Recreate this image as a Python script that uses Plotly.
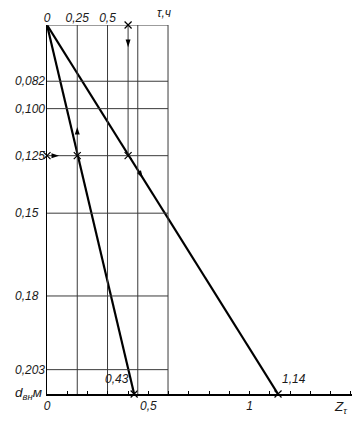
import math
import plotly.graph_objects as go

# ---- data ----
tau_grid = [0.25, 0.5, 0.75, 1.0]          # vertical grid lines, hours
tau_tick_vals = [0, 0.25, 0.5]
tau_tick_text = ["0", "0,25", "0,5"]
d_ticks = [0.082, 0.100, 0.125, 0.15, 0.18, 0.203]   # inner diameter, m
d_tick_text = ["0,082", "0,100", "0,125", "0,15", "0,18", "0,203"]
z_tick_vals = [0, 0.5, 1]
z_tick_text = ["0", "0,5", "1"]
z_results = [0.43, 1.14]                   # Z_tau read on the bottom scale
z_result_text = ["0,43", "1,14"]
tau_example = [0.25, 0.67]                 # tau for the worked example
d_example = 0.125                          # diameter for the worked example

# ---- scales ----
Z_MAX = 1.505
TAU_MAX = 2.52
D2_MAX = 0.04412        # d-scale is drawn as d^2
W, H = 359, 427
ML, MR, MT, MB = 47, 7, 25, 33
PW, PH = W - ML - MR, H - MT - MB

FONT = "Liberation Sans, Arial, sans-serif"
TXT = "#1a1a1a"
GRID = "#3a3a3a"


def d2(d):
    return d * d


fig = go.Figure()

# grid (tau columns and d rows), drawn on the tau axis
gx, gy = [], []
for t in tau_grid:
    gx += [t, t, None]
    gy += [0, D2_MAX, None]
for d in d_ticks:
    gx += [0, tau_grid[-1], None]
    gy += [d2(d), d2(d), None]
gx += [0, tau_grid[-1]]
gy += [0, 0]
fig.add_trace(go.Scatter(x=gx, y=gy, xaxis="x2", yaxis="y", mode="lines",
                         line=dict(color=GRID, width=1), hoverinfo="skip"))

# worked example vertical line at tau = 0.67
fig.add_trace(go.Scatter(x=[tau_example[1], tau_example[1]], y=[0, d2(d_example)],
                         xaxis="x2", yaxis="y", mode="lines",
                         line=dict(color=GRID, width=1), hoverinfo="skip"))

# Z rays from origin to bottom scale
for z in z_results:
    fig.add_trace(go.Scatter(x=[0, z], y=[0, D2_MAX], xaxis="x", yaxis="y",
                             mode="lines", line=dict(color="black", width=2.2),
                             hoverinfo="skip"))

# crosses
cross = dict(symbol="x-thin", size=7, line=dict(width=1.2, color="black"), color="black")
fig.add_trace(go.Scatter(x=[0, tau_example[0], tau_example[1], tau_example[1]],
                         y=[d2(d_example), d2(d_example), d2(d_example), 0],
                         xaxis="x2", yaxis="y", mode="markers", marker=cross,
                         hoverinfo="skip", cliponaxis=False))
fig.add_trace(go.Scatter(x=z_results, y=[D2_MAX] * len(z_results), xaxis="x", yaxis="y",
                         mode="markers", marker=cross, hoverinfo="skip", cliponaxis=False))

# arrowheads along the reading path
ang_ray = math.degrees(math.atan2(z_results[1] / Z_MAX * PW, -PH))
arrow_tau_x = [tau_example[1], 0.10, tau_example[0]]
arrow_tau_y = [0.17 * d2(d_example), d2(d_example), 0.78 * d2(d_example)]
arrow_tau_ang = [180, 90, 0]
fig.add_trace(go.Scatter(x=arrow_tau_x, y=arrow_tau_y, xaxis="x2", yaxis="y",
                         mode="markers",
                         marker=dict(symbol="arrow", size=8, angle=arrow_tau_ang,
                                     color="black", line=dict(width=0)),
                         hoverinfo="skip"))
fr = 0.415
fig.add_trace(go.Scatter(x=[fr * z_results[1]], y=[fr * D2_MAX], xaxis="x", yaxis="y",
                         mode="markers",
                         marker=dict(symbol="arrow", size=8, angle=ang_ray,
                                     color="black", line=dict(width=0)),
                         hoverinfo="skip"))

font = dict(family=FONT, size=12, color=TXT, style="italic")
font_big = dict(family=FONT, size=13.5, color=TXT, style="italic")

ann = []
# d labels (left aligned like the drawing)
for d, s in zip(d_ticks, d_tick_text):
    ann.append(dict(x=0, xref="paper", y=d2(d), yref="y", text=s, showarrow=False,
                    xanchor="left", yanchor="middle", xshift=-34, font=font))
ann.append(dict(x=0, xref="paper", y=D2_MAX, yref="y", text="d<sub>вн</sub>м",
                showarrow=False, xanchor="right", yanchor="middle", xshift=-3, yshift=1,
                font=font_big))
ann.append(dict(x=tau_grid[-1], xref="x2", y=1, yref="paper", text="τ,ч", showarrow=False,
                xanchor="center", yanchor="bottom", xshift=-4, yshift=3, font=font))
ann.append(dict(x=1, xref="paper", y=0, yref="paper", text="Z<sub>τ</sub>", showarrow=False,
                xanchor="right", yanchor="top", xshift=-2, yshift=-3, font=font_big))
ann.append(dict(x=z_results[0], xref="x", y=D2_MAX, yref="y", text=z_result_text[0],
                showarrow=False, xanchor="right", yanchor="bottom", xshift=-3, yshift=6,
                font=font))
ann.append(dict(x=z_results[1], xref="x", y=D2_MAX, yref="y", text=z_result_text[1],
                showarrow=False, xanchor="left", yanchor="bottom", xshift=2, yshift=6,
                font=font))

fig.update_layout(
    width=W, height=H, margin=dict(l=ML, r=MR, t=MT, b=MB),
    paper_bgcolor="white", plot_bgcolor="white", showlegend=False,
    annotations=ann,
    xaxis=dict(range=[0, Z_MAX], showline=True, linecolor="black", linewidth=1.5,
               showgrid=False, zeroline=False, tickvals=z_tick_vals, ticktext=z_tick_text,
               ticks="inside", ticklen=3, tickcolor="black", tickwidth=1,
               minor=dict(dtick=0.1, ticks="inside", ticklen=3, tickcolor="black", showgrid=False),
               tickfont=font, fixedrange=True),
    xaxis2=dict(range=[0, TAU_MAX], overlaying="x", side="top", showline=False,
                showgrid=False, zeroline=False, tickvals=tau_tick_vals, ticktext=tau_tick_text,
                ticks="", tickfont=font, fixedrange=True),
    yaxis=dict(range=[D2_MAX, 0], showline=True, linecolor="black", linewidth=1.5,
               showgrid=False, zeroline=False, showticklabels=False, ticks="",
               fixedrange=True),
)

fig.write_html("out.html", config={"displayModeBar": False, "staticPlot": True})
